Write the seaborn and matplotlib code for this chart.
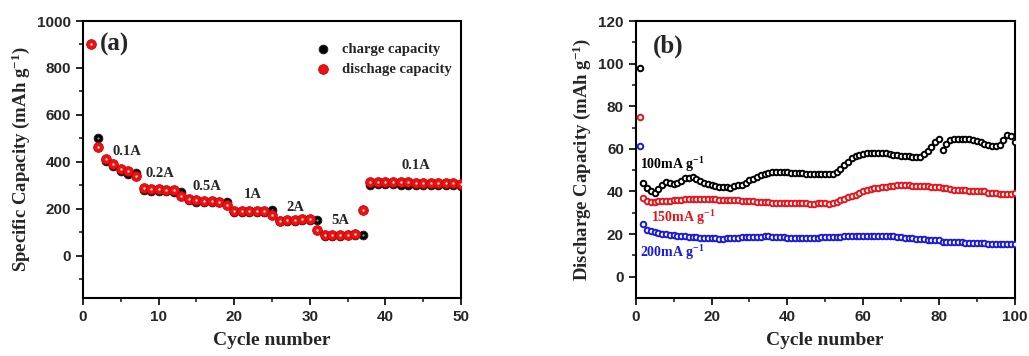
import numpy as np
import pandas as pd
import matplotlib
matplotlib.use("Agg")
import matplotlib.pyplot as plt
import seaborn as sns

# ---- panel (a): rate performance ----
cycles_a = list(range(1, 51))
discharge_a = [900, 465, 413, 390, 370, 363, 338,
               290, 286, 284, 282, 279, 253,
               242, 236, 234, 232, 230, 214,
               189, 189, 190, 190, 191, 174,
               150, 153, 154, 155, 155, 108,
               89, 88, 90, 90, 92, 193,
               316, 316, 314, 315, 314, 312, 311, 311, 310, 309, 308, 308, 306]
charge_a = [np.nan, 500, 405, 383, 362, 350, 352,
            278, 276, 275, 274, 273, 271,
            236, 230, 229, 228, 227, 231,
            186, 186, 187, 187, 188, 194,
            146, 149, 150, 151, 151, 152,
            84, 85, 86, 87, 88, 90,
            302, 304, 304, 304, 303, 302, 302, 301, 301, 300, 300, 300, 299]
rate_labels = ["0.1A", "0.2A", "0.5A", "1A", "2A", "5A", "0.1A"]
rate_x = [5.8, 10.2, 16.4, 22.4, 28.1, 34.1, 44.1]
rate_y = [444, 352, 295, 260, 207, 149, 384]

# ---- panel (b): cycling at three current densities ----
cycles_b = list(range(1, 101))
cap_100 = [98, 44, 41.5, 40, 39.5, 41, 43, 44.5, 44, 43.5,
           44, 45, 46.5, 46.5, 47, 46, 45, 44, 43.5, 43,
           42.5, 42, 42, 42, 41.5, 42.5, 43, 43, 44, 45.5,
           46, 47, 47.5, 48, 48.5, 49, 49, 49, 49, 49,
           48.5, 48.5, 48.5, 48.5, 48, 48, 48, 48, 48, 48,
           48, 48, 49, 50.5, 52.5, 54, 55.5, 56.5, 57, 57.5,
           58, 58, 58, 58, 58, 58, 57.5, 57, 57, 56.5,
           56.5, 56.5, 56, 56, 56, 57.5, 59, 61, 63, 64.5,
           59.5, 62.5, 64, 64.5, 64.5, 64.5, 64.5, 64.5, 64, 63.5,
           63, 62.5, 62, 61.5, 61.5, 62, 64, 66.5, 66, 63]
cap_150 = [75, 37, 35.5, 35, 35, 35.5, 35.5, 35.5, 35.5, 36,
           36, 36, 36.5, 36.5, 36.5, 36.5, 36.5, 36.5, 36.5, 36.5,
           36.5, 36, 36, 36, 36, 36, 36, 35.5, 35.5, 35.5,
           35.5, 35, 35, 35, 35, 34.5, 34.5, 34.5, 34.5, 34.5,
           34.5, 34.5, 34.5, 34.5, 34.5, 34, 34, 34.5, 34.5, 34.5,
           34, 34.5, 35, 36, 36.5, 37.5, 38, 38.5, 39.5, 40,
           40.5, 41, 41.5, 41.5, 42, 42, 42.5, 42.5, 43, 43,
           43, 43, 42.5, 42.5, 42.5, 42.5, 42.5, 42, 42, 42,
           41.5, 41.5, 41, 40.5, 40.5, 40.5, 40.5, 40, 40, 40,
           40, 40, 39.5, 39.5, 39.5, 39, 39, 39, 39, 39.5]
cap_200 = [61.5, 24.5, 22, 21.5, 21, 20.5, 20, 20, 19.5, 19.5,
           19, 19, 19, 18.5, 18.5, 18.5, 18, 18, 18, 18,
           18, 17.5, 17.5, 18, 18, 18, 18, 18.5, 18.5, 18.5,
           18.5, 18.5, 18.5, 19, 19, 18.5, 18.5, 18.5, 18.5, 18,
           18, 18, 18, 18, 18, 18, 18, 18, 18.5, 18.5,
           18.5, 18.5, 18.5, 18.5, 19, 19, 19, 19, 19, 19,
           19, 19, 19, 19, 19, 19, 19, 19, 18.5, 18.5,
           18, 18, 18, 17.5, 17.5, 17.5, 17, 17, 17, 17,
           16.5, 16.5, 16.5, 16.5, 16.5, 16.5, 16, 16, 16, 16,
           16, 16, 15.5, 15.5, 15.5, 15.5, 15.5, 15.5, 15.5, 15.5]
series_b = ["100mA g$^{\\mathregular{-1}}$", "150mA g$^{\\mathregular{-1}}$", "200mA g$^{\\mathregular{-1}}$"]
colors_b = ["black", "#e8141c", "#1a1adb"]
label_pos_b = [(1, 52.5), (4, 27.7), (1, 11.4)]

sns.set_style("ticks")
plt.rcParams["font.family"] = ["Liberation Serif", "DejaVu Serif"]
plt.rcParams["mathtext.fontset"] = "custom"
plt.rcParams["mathtext.rm"] = "Liberation Serif:bold"
plt.rcParams["mathtext.it"] = "Liberation Serif:bold"
plt.rcParams["mathtext.bf"] = "Liberation Serif:bold"

fig = plt.figure(figsize=(10.29, 3.56), dpi=100)
ax1 = fig.add_axes([0.0807, 0.163, 0.3673, 0.778])
ax2 = fig.add_axes([0.6178, 0.163, 0.3683, 0.778])

df_a = pd.DataFrame({"cycle": cycles_a, "charge": charge_a, "discharge": discharge_a})

# charge first, discharge drawn on top
sns.scatterplot(data=df_a, x="cycle", y="charge", ax=ax1, color="black", s=40,
                edgecolor="#222222", linewidth=0.6, label="charge capacity", zorder=3)
sns.scatterplot(data=df_a, x="cycle", y="discharge", ax=ax1, color="#ee1111", s=50,
                edgecolor="#c00000", linewidth=0.5, label="dischage capacity", zorder=4)
# small highlight dots to mimic the shaded spheres
ax1.scatter(df_a["cycle"], df_a["discharge"], s=3, color="#ffe0e0", lw=0, zorder=5)
ax1.scatter(df_a["cycle"], df_a["charge"], s=3, color="#888888", lw=0, zorder=3.5)

for lab, x, y in zip(rate_labels, rate_x, rate_y):
    ax1.text(x, y, lab, ha="center", va="center", fontsize=10.5, fontweight="bold")
ax1.text(2.2, 900, "(a)", ha="left", va="center", fontsize=18, fontweight="bold")

ax1.set_xlim(0, 50)
ax1.set_ylim(-180, 1000)
ax1.set_xticks(range(0, 51, 10))
ax1.set_xticks(range(0, 51, 5), minor=True)
ax1.set_yticks(range(0, 1001, 200))
ax1.set_yticks(range(-100, 1001, 100), minor=True)
ax1.set_xlabel("Cycle number", fontsize=14, fontweight="bold", labelpad=6)
ax1.set_ylabel("Specific Capacity (mAh g$^{\\mathregular{-1}}$)", fontsize=13.5, fontweight="bold", labelpad=4)
leg = ax1.legend(loc="upper right", bbox_to_anchor=(1.01, 0.97), frameon=False,
                 prop={"family": "Liberation Serif", "weight": "bold", "size": 10.5},
                 handletextpad=0.3, labelspacing=0.5, markerscale=1.0)

# ---- panel (b) ----
for name, vals, col, (lx, ly) in zip(series_b, [cap_100, cap_150, cap_200], colors_b, label_pos_b):
    d = pd.DataFrame({"cycle": cycles_b, "cap": vals})
    sns.scatterplot(data=d, x="cycle", y="cap", ax=ax2, color="white", edgecolor=col,
                    s=16, linewidth=1.4, zorder=3)
    ax2.text(lx, ly, name, color=col, ha="left", va="center", fontsize=10, fontweight="bold")
ax2.text(4.6, 108, "(b)", ha="left", va="center", fontsize=18, fontweight="bold")

ax2.set_xlim(0, 100)
ax2.set_ylim(-10, 120)
ax2.set_xticks(range(0, 101, 20))
ax2.set_xticks(range(0, 101, 10), minor=True)
ax2.set_yticks(range(0, 121, 20))
ax2.set_yticks(range(0, 121, 10), minor=True)
ax2.set_xlabel("Cycle number", fontsize=14, fontweight="bold", labelpad=6)
ax2.set_ylabel("Discharge Capacity (mAh g$^{\\mathregular{-1}}$)", fontsize=13.5, fontweight="bold", labelpad=4)

for ax in (ax1, ax2):
    for sp in ax.spines.values():
        sp.set_visible(True)
        sp.set_linewidth(1.5)
        sp.set_color("black")
    ax.tick_params(which="major", direction="out", length=5, width=1.4,
                   labelsize=11, top=False, right=False)
    ax.tick_params(which="minor", direction="out", length=3, width=1.2,
                   top=False, right=False)
    for t in ax.get_xticklabels() + ax.get_yticklabels():
        t.set_fontfamily("Liberation Sans")
        t.set_fontweight("bold")

fig.savefig("out.png", dpi=100)
